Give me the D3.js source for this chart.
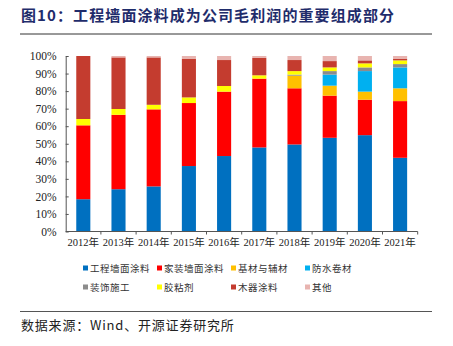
<!DOCTYPE html>
<html><head><meta charset="utf-8">
<script src="https://cdn.jsdelivr.net/npm/d3@7"></script>
<style>body{margin:0;background:#fff;}svg{display:block;}</style>
</head><body>
<script>
const categories = ["2012年","2013年","2014年","2015年","2016年","2017年","2018年","2019年","2020年","2021年"];
const seriesNames = ["工程墙面涂料","家装墙面涂料","基材与辅材","防水卷材","装饰施工","胶粘剂","木器涂料","其他"];
const seriesColors = ["#0070C0","#FF0000","#FFC000","#00B0F0","#8C8C8C","#FFFF00","#C43C2F","#E8B4B0"];
const engWall  = [18.4,24.1,25.7,37.3,43.0,47.9,49.6,53.4,54.9,42.0];
const homeWall = [42.1,42.4,43.9,35.9,36.7,39.2,32.0,24.0,20.2,32.3];
const baseAux  = [0,0,0,0,0,0,7.2,5.7,4.6,7.3];
const waterproof=[0,0,0,0,0,0,0,6.3,11.7,11.9];
const decor    = [0,0,0,0,0,0,0.6,2.0,2.1,1.9];
const adhesive = [3.6,3.3,2.6,3.2,3.2,1.9,2.0,2.1,2.3,2.1];
const woodCoat = [35.9,29.4,27.0,21.9,14.8,9.9,6.3,3.6,1.7,0.8];
const others   = [0,0.8,0.8,1.7,2.3,1.1,2.3,2.9,2.5,1.7];
const yTicks = [0,10,20,30,40,50,60,70,80,90,100];

const W=453,H=346;
const svg=d3.select("body").append("svg").attr("width",W).attr("height",H);
const serif="'Liberation Serif','Times New Roman','Noto Sans CJK SC',serif";
const cjk="'Noto Sans CJK SC',sans-serif";

svg.append("text").attr("x",21).attr("y",21).attr("font-family",cjk).attr("font-weight","bold")
  .attr("font-size",15).attr("letter-spacing",1.1).attr("fill","#1F2C6B").text("图10：工程墙面涂料成为公司毛利润的重要组成部分");
svg.append("line").attr("x1",20).attr("x2",432).attr("y1",34).attr("y2",34).attr("stroke","#333").attr("stroke-width",1);

const x0=65.7,x1=417.7,yTop=56,yBot=231.5;
const x=d3.scaleBand().domain(categories).range([x0,x1]).paddingInner(0.6).paddingOuter(0.3);
const y=d3.scaleLinear().domain([0,100]).range([yBot,yTop]);

const data=categories.map((c,i)=>({cat:c,"工程墙面涂料":engWall[i],"家装墙面涂料":homeWall[i],"基材与辅材":baseAux[i],"防水卷材":waterproof[i],"装饰施工":decor[i],"胶粘剂":adhesive[i],"木器涂料":woodCoat[i],"其他":others[i]}));
const stack=d3.stack().keys(seriesNames)(data);
const color=d3.scaleOrdinal().domain(seriesNames).range(seriesColors);

svg.append("g").selectAll("g").data(stack).join("g").attr("fill",d=>color(d.key))
 .selectAll("rect").data(d=>d).join("rect")
 .attr("x",d=>x(d.data.cat)).attr("width",x.bandwidth())
 .attr("y",d=>y(d[1])).attr("height",d=>Math.max(0,y(d[0])-y(d[1])));

// y axis
const ya=svg.append("g").attr("transform",`translate(${x0},0)`)
 .call(d3.axisLeft(y).tickValues(yTicks).tickFormat(d=>d+"%").tickSizeInner(-3).tickSizeOuter(0).tickPadding(9));
ya.select(".domain").attr("stroke","#555");
ya.selectAll(".tick line").attr("stroke","#555");
ya.selectAll("text").attr("font-family",serif).attr("font-size",11.5).attr("fill","#222");

// x axis
const step=x.step();
const xa=svg.append("g").attr("transform",`translate(0,${yBot})`)
 .call(d3.axisBottom(x).tickSize(0).tickPadding(7));
xa.select(".domain").attr("stroke","#555").attr("d",`M${x0},0H${x1}`);
xa.selectAll("text").attr("font-family",serif).attr("font-size",10.5).attr("fill","#222");
xa.selectAll(".bnd").data(categories).join("line").attr("class","bnd")
 .attr("x1",d=>x(d)+x.bandwidth()/2+step/2).attr("x2",d=>x(d)+x.bandwidth()/2+step/2)
 .attr("y1",0).attr("y2",3).attr("stroke","#555");

// legend
const lx=[83,157,231,305], ly=[268,287];
const lg=svg.append("g").selectAll("g").data(seriesNames).join("g")
 .attr("transform",(d,i)=>`translate(${lx[i%4]},${ly[Math.floor(i/4)]})`);
lg.append("rect").attr("x",0).attr("y",-2.5).attr("width",5).attr("height",5).attr("fill",d=>color(d));
lg.append("text").attr("x",7).attr("y",4).attr("font-family",cjk).attr("font-size",9.5).attr("letter-spacing",0.5).attr("fill","#333").text(d=>d);

svg.append("line").attr("x1",20).attr("x2",432).attr("y1",311.5).attr("y2",311.5).attr("stroke","#555").attr("stroke-width",1);
svg.append("text").attr("x",21).attr("y",330).attr("font-family",cjk).attr("font-size",13).attr("letter-spacing",0.8).attr("fill","#222")
 .text("数据来源：Wind、开源证券研究所");
</script>
</body></html>
